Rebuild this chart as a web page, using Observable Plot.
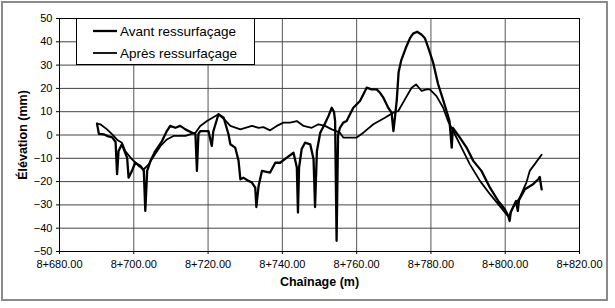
<!DOCTYPE html>
<html>
<head>
<meta charset="utf-8">
<script src="https://cdn.jsdelivr.net/npm/d3@7"></script>
<script src="https://cdn.jsdelivr.net/npm/@observablehq/plot@0.6"></script>
<style>
  html, body { margin: 0; padding: 0; background: #fff; }
  #wrap { position: relative; width: 615px; height: 308px; font-family: Arial, "Liberation Sans", sans-serif; }
  #outer { position: absolute; left: 1px; top: 1px; width: 607px; height: 300px; border: 2px solid #8a8a8a; box-sizing: border-box; pointer-events: none; }
  #legend { position: absolute; left: 76px; top: 18px; width: 179px; height: 47px; box-sizing: border-box; border: 1px solid #000; background: #fff; font-size: 13.5px; color: #000; }
  .item { position: absolute; left: 16px; display: flex; align-items: center; height: 16px; }
  .item svg { margin-right: 3px; }
</style>
</head>
<body>
<div id="wrap">
  <div id="chart"></div>
  <div id="legend"></div>
  <div id="outer"></div>
</div>
<script>
// Series names
const seriesNames = ["Avant ressurfaçage", "Après ressurfaçage"];

// Avant ressurfaçage (chaînage m after 8+000, elevation mm)
const avantX = [690.1, 690.6, 691.9, 693.0, 694.2, 695.1, 695.5, 695.9, 696.8, 698.2, 698.6, 699.5, 700.4, 701.8, 702.7, 703.1, 703.6, 704.5, 705.8, 707.6, 708.9, 709.8, 711.2, 712.5, 713.9, 715.7, 716.6, 717.0, 717.4, 717.9, 720.1, 721.0, 721.4, 722.8, 724.2, 725.5, 726.0, 727.3, 728.2, 728.7, 729.5, 730.9, 731.8, 732.7, 733.0, 733.6, 734.5, 736.7, 738.1, 739.4, 741.2, 743.0, 743.9, 744.2, 744.5, 745.2, 746.1, 747.5, 748.4, 748.8, 749.3, 750.2, 751.5, 752.4, 753.3, 753.9, 754.2, 754.6, 755.0, 755.5, 756.4, 757.3, 759.1, 760.9, 762.7, 764.0, 765.4, 766.3, 767.2, 768.5, 769.4, 769.9, 770.3, 770.8, 771.3, 772.0, 773.4, 774.4, 775.2, 776.3, 777.5, 778.4, 779.3, 780.6, 781.9, 783.3, 784.2, 785.0, 785.6, 785.9, 786.5, 787.8, 789.6, 791.4, 793.6, 795.9, 798.1, 799.9, 800.8, 801.2, 801.5, 802.9, 803.4, 803.7, 805.3, 807.5, 808.9, 809.3, 809.8];
const avantY = [4.9, 0.5, 0.3, -0.5, -1.0, -3.0, -16.8, -6.9, -4.0, -9.7, -18.3, -15.4, -11.9, -13.3, -15.4, -32.6, -15.4, -11.1, -6.9, -2.6, 1.7, 3.9, 3.1, 3.9, 2.4, 1.0, 0.3, -15.4, 0.5, 1.7, 1.7, -4.7, 1.5, 8.9, 7.4, 0.3, -4.0, -5.4, -11.0, -19.0, -18.3, -19.7, -20.4, -22.6, -30.9, -21.9, -15.4, -16.1, -11.9, -11.9, -9.7, -7.6, -14.0, -33.3, -14.0, -6.0, -3.3, -4.0, -10.4, -30.9, -6.9, 1.0, 5.0, 8.1, 11.7, 10.0, 6.0, -45.4, 0.0, 3.1, 5.3, 6.0, 11.7, 14.6, 20.3, 19.6, 19.6, 18.1, 16.0, 11.7, 9.6, 1.7, 7.4, 15.0, 27.0, 32.0, 38.0, 41.7, 43.5, 44.3, 43.0, 41.5, 37.4, 31.0, 22.0, 15.0, 10.3, 6.0, -5.4, 3.0, 1.7, -1.1, -5.4, -11.1, -15.4, -22.6, -28.3, -31.9, -34.7, -36.9, -33.0, -28.3, -32.6, -28.0, -23.3, -21.1, -19.0, -18.0, -23.3];

// Après ressurfaçage
const apresX = [690.1, 691.0, 692.8, 694.2, 695.5, 696.8, 697.7, 699.5, 701.3, 702.7, 704.0, 705.4, 707.2, 708.9, 710.7, 713.9, 716.6, 717.9, 719.7, 722.8, 724.2, 726.0, 728.7, 731.8, 733.6, 734.9, 736.7, 738.5, 740.3, 742.1, 743.9, 745.7, 747.9, 749.7, 751.5, 753.3, 755.5, 756.4, 760.0, 761.8, 764.5, 767.6, 769.9, 771.2, 773.0, 774.8, 776.0, 777.5, 778.8, 779.7, 781.5, 783.3, 784.6, 786.0, 787.8, 790.5, 793.2, 795.9, 798.5, 800.3, 801.0, 802.1, 803.9, 805.7, 806.6, 807.9, 809.8];
const apresY = [4.9, 4.6, 2.4, 0.3, -2.0, -3.3, -6.9, -10.4, -13.3, -14.7, -12.6, -9.0, -4.7, -1.9, -0.4, -0.4, 1.0, 3.9, 6.0, 8.9, 7.0, 3.9, 2.4, 3.9, 3.1, 3.4, 2.0, 3.9, 5.3, 5.3, 6.0, 3.9, 3.1, 4.6, 3.9, 2.4, 1.0, -1.1, -1.1, 1.0, 4.6, 7.4, 9.6, 10.3, 15.3, 20.3, 21.7, 18.9, 19.6, 19.6, 16.7, 11.7, 6.0, 1.7, -4.0, -12.6, -19.7, -25.4, -30.4, -34.0, -35.0, -31.1, -26.9, -20.4, -15.4, -12.6, -8.5];

// Axis ticks
const xTicks = [680, 700, 720, 740, 760, 780, 800, 820];
const yTicks = [-50, -40, -30, -20, -10, 0, 10, 20, 30, 40, 50];
const xLabel = "Chaînage (m)";
const yLabel = "Élévation (mm)";

const avant = avantX.map((x, i) => ({x, y: avantY[i]}));
const apres = apresX.map((x, i) => ({x, y: apresY[i]}));
const fmtX = d => "8+" + d.toFixed(2);

const chart = Plot.plot({
  width: 615,
  height: 308,
  marginLeft: 59,
  marginRight: 36,
  marginTop: 18,
  marginBottom: 57,
  style: {fontFamily: 'Arial, "Liberation Sans", sans-serif', fontSize: "11px", color: "#000", background: "transparent"},
  x: {domain: [680, 820]},
  y: {domain: [-50, 50]},
  marks: [
    Plot.gridX(xTicks, {stroke: "#555", strokeOpacity: 1, strokeWidth: 1}),
    Plot.gridY(yTicks, {stroke: "#444", strokeOpacity: 1, strokeWidth: 1}),
    Plot.frame({stroke: "#000", strokeWidth: 1}),
    Plot.axisX(xTicks, {tickFormat: fmtX, tickSize: 3, tickPadding: 6, label: null}),
    Plot.axisY(yTicks, {tickSize: 3, tickPadding: 4, label: null}),
    Plot.line(apres, {x: "x", y: "y", stroke: "#000", strokeWidth: 1.8}),
    Plot.line(avant, {x: "x", y: "y", stroke: "#000", strokeWidth: 2.3}),
    Plot.text([xLabel], {frameAnchor: "bottom", dy: 34, fontWeight: "bold", fontSize: 12.5, text: d => d}),
    Plot.text([yLabel], {frameAnchor: "left", dx: -37, rotate: -90, textAnchor: "middle", fontWeight: "bold", fontSize: 12.5, text: d => d})
  ]
});
document.getElementById("chart").appendChild(chart);

// Legend
const legend = document.getElementById("legend");
const widths = [2.3, 1.8];
const tops = [4, 26];
seriesNames.forEach((name, i) => {
  const item = document.createElement("div");
  item.className = "item";
  item.style.top = tops[i] + "px";
  item.innerHTML = `<svg width="24" height="16"><line x1="0" x2="24" y1="8" y2="8" stroke="#000" stroke-width="${widths[i]}"/></svg><span>${name}</span>`;
  legend.appendChild(item);
});
</script>
</body>
</html>
